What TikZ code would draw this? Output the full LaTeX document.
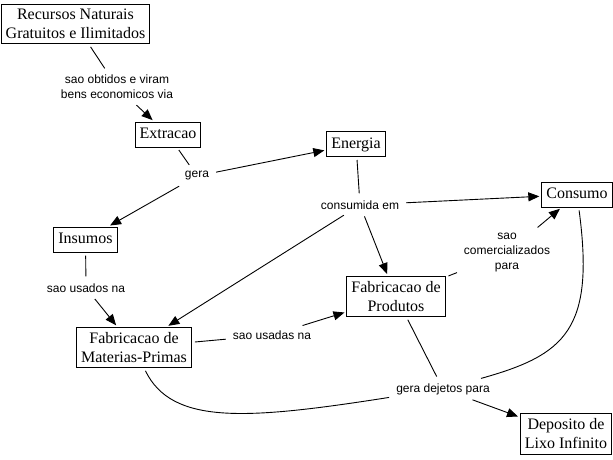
\documentclass[tikz,border=0pt]{standalone}
\usepackage{fontspec}
\setmainfont{Liberation Serif}
\newfontfamily\lblfont{Liberation Sans}
\usetikzlibrary{arrows.meta}
\begin{document}
\begin{tikzpicture}[x=1pt,y=-1pt,
 concept/.style={draw, line width=1pt, inner xsep=4.5pt, inner ysep=5pt, align=center, font=\fontsize{16}{19}\selectfont},
 concepta/.style={concept, text height=11.5pt, text depth=3.5pt},
 lbl/.style={inner sep=4pt, align=center, font=\lblfont\fontsize{12}{15}\selectfont},
 conn/.style={line width=0.9pt, shorten <=3pt, shorten >=3pt},
 arr/.style={conn, -{Triangle[length=11pt,width=9pt]}, shorten >=2pt}
]
\useasboundingbox (0,0) rectangle (613,459);
\node[concept] (rec) at (75.5,24) {Recursos Naturais\\Gratuitos e Ilimitados};
\node[lbl] (l1) at (117,87) {sao obtidos e viram\\bens economicos via};
\node[concepta] (ext) at (168,134.5) {Extracao};
\node[lbl] (gera) at (197,176) {gera};
\node[concepta] (ene) at (356,144) {Energia};
\node[lbl] (cons) at (360,205) {consumida em};
\node[concepta] (csm) at (577,194.5) {Consumo};
\node[concepta] (ins) at (85.5,239.5) {Insumos};
\node[lbl] (usados) at (86,288) {sao usados na};
\node[concept] (fmp) at (134,347.5) {Fabricacao de\\Materias-Primas};
\node[lbl] (usadas) at (272,335) {sao usadas na};
\node[concept] (fpr) at (396,296.5) {Fabricacao de\\Produtos};
\node[lbl] (com) at (507,253) {sao\\comercializados\\para};
\node[lbl] (dej) at (443,389) {gera dejetos para};
\node[concept] (dep) at (566,434) {Deposito de\\Lixo Infinito};

\draw[conn] (rec) -- (l1);
\draw[arr] (l1) -- (ext);
\draw[conn] (ext) -- (gera);
\draw[arr] (gera) -- (ene);
\draw[arr] (gera) -- (ins);
\draw[conn] (ene) -- (cons);
\draw[arr] (cons) -- (csm);
\draw[arr] (cons) -- (fpr);
\draw[arr] (cons) -- (fmp);
\draw[conn] (ins) -- (usados);
\draw[arr] (usados) -- (fmp);
\draw[conn] (fmp) -- (usadas);
\draw[arr] (usadas) -- (fpr);
\draw[conn] (fpr) -- (com);
\draw[arr] (com) -- (csm);
\draw[conn] (fpr) -- (dej);
\draw[conn] (csm) .. controls (595,330) and (565,355) .. (dej);
\draw[conn] (fmp) .. controls (172,425) and (245,420) .. (dej);
\draw[arr] (dej) -- (dep);
\end{tikzpicture}
\end{document}
